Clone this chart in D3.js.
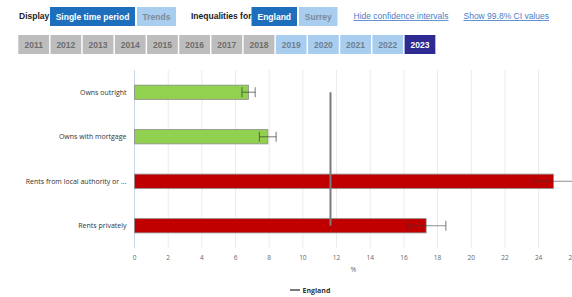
<!DOCTYPE html>
<html>
<head>
<meta charset="utf-8">
<script src="https://cdn.jsdelivr.net/npm/d3@7"></script>
<style>
  body { margin: 0; background: #fff; }
  svg { display: block; }
  .ctl { font-family: "Liberation Sans", Arial, sans-serif; }
  .chart text { font-family: "Open Sans", "DejaVu Sans", sans-serif; }
</style>
</head>
<body>
<div id="graf"></div>
<script>
// datos
const categorias = ["Owns outright", "Owns with mortgage", "Rents from local authority or ...", "Rents privately"];
const valores = [6.77, 7.92, 24.88, 17.32];
const ciInferior = [6.38, 7.42, 23.69, 16.23];
const ciSuperior = [7.17, 8.41, 26.3, 18.49];
const comparacion = ["mejor", "mejor", "peor", "peor"];
const valorInglaterra = 11.64;
const ticksX = [0, 2, 4, 6, 8, 10, 12, 14, 16, 18, 20, 22, 24, 26];
const anios = ["2011", "2012", "2013", "2014", "2015", "2016", "2017", "2018", "2019", "2020", "2021", "2022", "2023"];
const estadoAnio = ["off", "off", "off", "off", "off", "off", "off", "off", "on", "on", "on", "on", "sel"];

const anchoTotal = 572;
const altoTotal = 297;

const svg = d3.select("#graf")
  .append("svg")
  .attr("width", anchoTotal)
  .attr("height", altoTotal);

// ---- controles de arriba ----
const ctl = svg.append("g").classed("ctl", true);

function boton(x, y, w, h, texto, fondo, color) {
  ctl.append("rect").attr("x", x).attr("y", y).attr("width", w).attr("height", h).attr("fill", fondo);
  ctl.append("text")
    .attr("x", x + w / 2).attr("y", y + h / 2 + 3)
    .attr("text-anchor", "middle")
    .attr("font-size", 8.5).attr("font-weight", "bold")
    .attr("fill", color)
    .text(texto);
}

ctl.append("text").attr("x", 19).attr("y", 19).attr("font-size", 8.5).attr("font-weight", "bold").attr("fill", "#222").text("Display");
boton(50, 7, 85, 19, "Single time period", "#1d6fbd", "#fff");
boton(137, 7, 39, 19, "Trends", "#a9cdee", "#7d8a99");
ctl.append("text").attr("x", 191).attr("y", 19).attr("font-size", 8.5).attr("font-weight", "bold").attr("fill", "#222").text("Inequalities for");
boton(251.5, 7, 45.5, 19, "England", "#1d6fbd", "#fff");
boton(299, 7, 38.5, 19, "Surrey", "#a9cdee", "#7d8a99");

const links = [["Hide confidence intervals", 353.5], ["Show 99.8% CI values", 463.5]];
links.forEach(([t, x]) => {
  ctl.append("text").attr("x", x).attr("y", 19).attr("font-size", 8.5)
    .attr("fill", "#4a80c8").attr("text-decoration", "underline").text(t);
});

// botones de anios
const xAnio = d3.scaleBand().domain(anios).range([18.3, 18.3 + 32.08 * anios.length]).paddingInner(0.045).paddingOuter(0);
const coloresAnio = { off: ["#bdbdbd", "#6d6d6d"], on: ["#a9cdee", "#6f7f90"], sel: ["#2e2a92", "#ffffff"] };
anios.forEach((a, i) => {
  const [f, c] = coloresAnio[estadoAnio[i]];
  boton(xAnio(a), 35, xAnio.bandwidth(), 19, a, f, c);
});

// ---- grafica ----
const margins = { top: 70, left: 134.5, right: -0.3, bottom: 49 };
const ancho = anchoTotal - margins.left - margins.right;
const alto = altoTotal - margins.top - margins.bottom;

const g = svg.append("g")
  .classed("chart", true)
  .attr("transform", `translate(${margins.left}, ${margins.top})`);

const x = d3.scaleLinear().domain([0, 26]).range([0, ancho]);
const y = d3.scaleBand().domain(categorias).range([0, alto]).paddingInner(0.68).paddingOuter(0.34);

// rejilla
g.append("g").selectAll("line").data(ticksX.slice(1)).join("line")
  .attr("x1", d => x(d)).attr("x2", d => x(d))
  .attr("y1", 0).attr("y2", alto)
  .attr("stroke", "#ebebeb").attr("stroke-width", 1);

// eje de categorias
g.append("line").attr("x1", 0).attr("x2", 0).attr("y1", 0).attr("y2", alto)
  .attr("stroke", "#ccd6eb").attr("stroke-width", 1);

g.append("g").selectAll("text").data(categorias).join("text")
  .attr("x", -8)
  .attr("y", d => y(d) + y.bandwidth() / 2 + 2.5)
  .attr("text-anchor", "end")
  .attr("font-size", 7)
  .attr("fill", "#333")
  .text(d => d);

// barras
const datos = categorias.map((c, i) => ({ cat: c, v: valores[i], lo: ciInferior[i], hi: ciSuperior[i], comp: comparacion[i] }));
const colorComp = { mejor: "#92d050", peor: "#c00000" };

g.append("g").selectAll("rect").data(datos).join("rect")
  .attr("x", x(0))
  .attr("y", d => y(d.cat))
  .attr("width", d => x(d.v) - x(0))
  .attr("height", y.bandwidth())
  .attr("fill", d => colorComp[d.comp])
  .attr("stroke", "#8a8a8a")
  .attr("stroke-width", 0.8);

// intervalos de confianza
const ic = g.append("g").attr("stroke", "#333").attr("stroke-opacity", 0.55).attr("stroke-width", 1.2);
datos.forEach(d => {
  const cy = y(d.cat) + y.bandwidth() / 2;
  ic.append("line").attr("x1", x(d.lo)).attr("x2", x(d.hi)).attr("y1", cy).attr("y2", cy);
  [d.lo, d.hi].forEach(v => {
    ic.append("line").attr("x1", x(v)).attr("x2", x(v)).attr("y1", cy - 5).attr("y2", cy + 5);
  });
});

// linea de Inglaterra
g.append("line")
  .attr("x1", x(valorInglaterra)).attr("x2", x(valorInglaterra))
  .attr("y1", y(categorias[0]) + y.bandwidth() / 2)
  .attr("y2", y(categorias[categorias.length - 1]) + y.bandwidth() / 2)
  .attr("stroke", "#7a7a7a").attr("stroke-width", 2);

// eje x
const ejeX = g.append("g").attr("transform", `translate(0, ${alto})`);
ejeX.selectAll("text").data(ticksX).join("text")
  .attr("x", d => x(d)).attr("y", 11.5)
  .attr("text-anchor", "middle")
  .attr("font-size", 6.5)
  .attr("fill", "#666")
  .text(d => d);

g.append("text")
  .attr("x", ancho / 2).attr("y", alto + 24)
  .attr("text-anchor", "middle")
  .attr("font-size", 7)
  .attr("fill", "#666")
  .text("%");

// leyenda
const ley = svg.append("g").classed("chart", true);
ley.append("line").attr("x1", 290).attr("x2", 300).attr("y1", 290).attr("y2", 290)
  .attr("stroke", "#7a7a7a").attr("stroke-width", 2);
ley.append("text").attr("x", 302.5).attr("y", 292.5)
  .attr("font-size", 7).attr("font-weight", "bold").attr("fill", "#333")
  .text("England");
</script>
</body>
</html>
